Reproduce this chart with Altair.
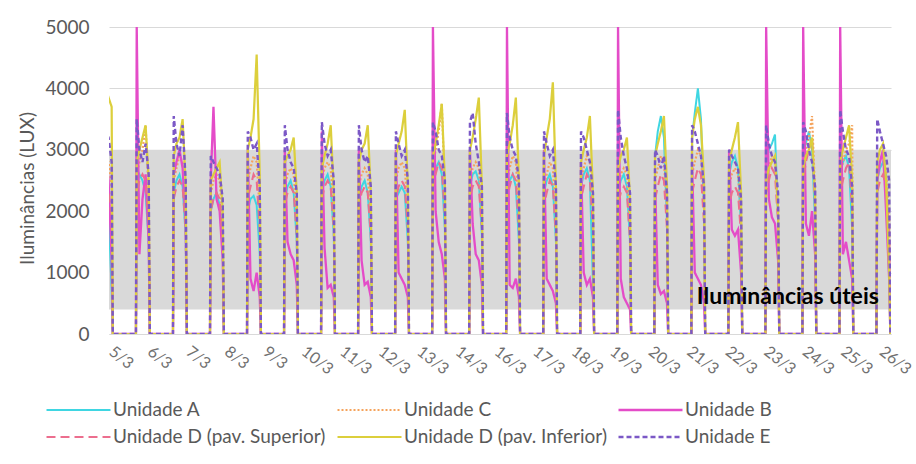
import json
import altair as alt
import pandas as pd

# ---------------- data ----------------
SERIES = ["Unidade A", "Unidade C", "Unidade B",
          "Unidade D (pav. Superior)", "Unidade D (pav. Inferior)", "Unidade E"]
COLORS = ["#3FD6E2", "#F5A35C", "#E44CC8", "#EC6E8E", "#DCCF3C", "#7B58C6"]
DASHES = [[1, 0], [2, 2], [1, 0], [9, 5], [1, 0], [5, 3]]
WIDTHS = [2.0, 2.2, 2.0, 2.4, 2.0, 2.8]
# legend is filled column by column: this order shows rows A,C,B / Dsup,Dinf,E
LEGEND_ORDER = ["Unidade A", "Unidade D (pav. Superior)", "Unidade C",
                "Unidade D (pav. Inferior)", "Unidade B", "Unidade E"]

# daytime sampling hours (values below) and the dark hours read as 0 lux
DAY_HOURS = [8.25, 10, 12, 14, 16]
DARK_HOURS = [7.75, 16.75]
DARK_LUX = 0

# one row per calendar day 5/3 ... 26/3 (values at DAY_HOURS)
UNIDADE_A = [
    [2200, 2300, 2400, 2000, 700], [2400, 2600, 2500, 2300, 1500], [2300, 2500, 2600, 2400, 1600],
    [2000, 2200, 2300, 2100, 1400], [2000, 2200, 2250, 2100, 1300], [2200, 2400, 2500, 2300, 1500],
    [2300, 2500, 2600, 2400, 1600], [2200, 2400, 2500, 2300, 1500], [2200, 2300, 2400, 2300, 1500],
    [2500, 2700, 2800, 2600, 1700], [2400, 2600, 2650, 2500, 1600], [2300, 2500, 2600, 2400, 1500],
    [2300, 2500, 2600, 2400, 1500], [2400, 2600, 2700, 2500, 800], [2300, 2500, 2600, 2400, 1500],
    [2900, 3300, 3550, 3200, 1800], [3200, 3600, 4000, 3500, 2000], [2600, 2800, 2900, 2700, 1700],
    [2800, 3000, 3100, 3250, 1900], [2900, 3100, 3300, 3000, 1800], [2600, 2800, 2900, 2700, 1700],
    [2500, 2700, 2800, 2600, 900],
]
UNIDADE_C = [
    [2600, 2800, 2900, 2800, 2400], [2600, 2800, 3000, 3400, 2300], [2500, 2700, 2900, 2800, 2000],
    [2300, 2500, 2600, 2500, 1800], [2500, 2700, 2900, 2800, 2000], [2400, 2600, 2700, 2600, 1900],
    [2500, 2700, 2800, 2700, 2000], [2400, 2600, 2700, 2600, 1900], [2500, 2700, 2800, 2700, 2000],
    [2700, 3000, 3300, 3750, 2300], [2500, 2700, 2800, 2700, 2000], [2500, 2700, 2900, 2800, 2000],
    [2400, 2600, 2800, 2700, 1900], [2500, 2700, 2900, 2800, 2000], [2400, 2600, 2700, 2600, 1800],
    [2500, 2700, 2900, 2800, 2000], [2600, 2800, 3000, 2900, 2100], [2400, 2600, 2700, 2600, 1900],
    [2500, 2700, 2900, 2800, 2000], [2700, 3000, 3200, 3550, 2300], [2600, 2800, 3000, 3100, 3400],
    [2600, 2800, 2900, 2700, 1900],
]
UNIDADE_B = [
    [3000, 3100, 3000, 2500, 1200], [5000, 1300, 2200, 2600, 1500], [2600, 2800, 3000, 2700, 1800],
    [2500, 3700, 2200, 2000, 1200], [3000, 900, 700, 1000, 600], [3000, 1500, 1300, 1200, 800],
    [3300, 1400, 750, 800, 600], [3000, 1200, 800, 850, 600], [3000, 1000, 900, 800, 600],
    [5000, 2000, 1500, 1300, 900], [3000, 1800, 1300, 1200, 800], [5000, 800, 750, 900, 600],
    [3000, 900, 800, 700, 500], [2800, 1000, 800, 900, 600], [5000, 900, 600, 500, 400],
    [2500, 800, 650, 700, 500], [2800, 1000, 900, 800, 500], [3000, 1700, 1600, 1700, 1000],
    [5000, 2200, 1900, 1800, 1200], [5000, 1800, 1600, 2000, 1300], [5000, 1300, 1500, 1200, 900],
    [2500, 2800, 3000, 2000, 900],
]
UNIDADE_D_SUP = [
    [2200, 2400, 2500, 2300, 1900], [2300, 2500, 2600, 2500, 1800], [2200, 2400, 2500, 2400, 1700],
    [2000, 2200, 2300, 2200, 1500], [2200, 2400, 2600, 2500, 1700], [2100, 2300, 2400, 2300, 1600],
    [2200, 2400, 2500, 2400, 1700], [2100, 2300, 2400, 2300, 1600], [2200, 2400, 2500, 2400, 1700],
    [2400, 2600, 2800, 2700, 1900], [2200, 2400, 2500, 2400, 1700], [2200, 2400, 2600, 2500, 1700],
    [2100, 2300, 2500, 2400, 1600], [2200, 2400, 2600, 2500, 1700], [2100, 2300, 2400, 2300, 1500],
    [2200, 2400, 2600, 2500, 1700], [2300, 2500, 2700, 2600, 1800], [2100, 2300, 2400, 2300, 1600],
    [2300, 2500, 2700, 2600, 1800], [2500, 2800, 3000, 3200, 2000], [2300, 2500, 2700, 2800, 2000],
    [2300, 2500, 2600, 2400, 1600],
]
UNIDADE_D_INF = [
    [3400, 3500, 3600, 3850, 3700], [2800, 3000, 3200, 3400, 2500], [2900, 3100, 3200, 3500, 2400],
    [2500, 2600, 2700, 2800, 2000], [3000, 3200, 3500, 4550, 2600], [2800, 2900, 3000, 3200, 2300],
    [2700, 2900, 3100, 3400, 2300], [2800, 3000, 3100, 3400, 2300], [2900, 3100, 3300, 3650, 2400],
    [2900, 3100, 3400, 3750, 2500], [3000, 3200, 3500, 3850, 2400], [2900, 3100, 3400, 3850, 2500],
    [2900, 3200, 3500, 4100, 2400], [2800, 3000, 3200, 3550, 2300], [2700, 2900, 3000, 3200, 2200],
    [2900, 3100, 3300, 3550, 2400], [3200, 3500, 3700, 3400, 2500], [2800, 3000, 3200, 3450, 2300],
    [2500, 2700, 2800, 2900, 2000], [2700, 2900, 3000, 3200, 2200], [2800, 3000, 3200, 3400, 2500],
    [2800, 3000, 3100, 2500, 1000],
]
UNIDADE_E = [
    [3000, 3200, 3300, 3200, 2800], [3500, 3000, 2800, 3100, 2600], [3550, 3100, 2900, 3400, 2500],
    [2900, 2800, 2700, 2600, 2200], [3300, 3200, 3000, 3100, 2400], [3400, 3000, 2800, 2700, 2300],
    [3450, 3100, 2900, 3000, 2500], [3400, 3000, 2800, 2900, 2400], [3300, 3100, 2900, 3000, 2500],
    [3450, 3300, 3000, 2900, 2500], [3450, 3600, 3100, 2800, 2400], [3600, 3200, 3000, 2900, 2500],
    [3300, 3100, 2900, 3000, 2400], [3300, 3200, 3000, 2800, 2300], [3650, 3200, 2900, 2700, 2300],
    [3000, 2900, 2700, 2900, 2300], [3400, 3300, 3100, 2900, 2400], [3000, 2900, 2800, 2700, 2200],
    [3400, 3100, 2900, 2800, 2300], [3450, 3300, 3000, 2800, 2400], [3650, 3300, 3000, 2900, 2400],
    [3500, 3300, 3100, 2900, 2500],
]
VALUES = {
    "Unidade A": UNIDADE_A, "Unidade C": UNIDADE_C, "Unidade B": UNIDADE_B,
    "Unidade D (pav. Superior)": UNIDADE_D_SUP, "Unidade D (pav. Inferior)": UNIDADE_D_INF,
    "Unidade E": UNIDADE_E,
}

# x axis: day index (0 = 5/3), tick positions and texts
X_DOMAIN = [0.595, 21.716]
TICK_T = [0.77, 1.81, 2.85, 3.89, 4.93, 5.97, 7.01, 8.05, 9.09, 10.13, 11.18,
          12.22, 13.26, 14.30, 15.34, 16.38, 17.42, 18.46, 19.50, 20.54, 21.58]
TICK_TEXT = ["5/3", "6/3", "7/3", "8/3", "9/3", "10/3", "11/3", "12/3", "13/3", "14/3",
             "16/3", "17/3", "18/3", "19/3", "20/3", "21/3", "22/3", "23/3", "24/3", "25/3", "26/3"]
Y_TICKS = [0, 1000, 2000, 3000, 4000, 5000]

BAND_LO, BAND_HI = 400, 3000
ANNOT_T, ANNOT_LUX, ANNOT_TEXT = [18.93], [600], ["Iluminâncias úteis"]

# ---------------- tables ----------------
rows = []
for name in SERIES:
    for day, vals in enumerate(VALUES[name]):
        pts = [(DARK_HOURS[0], DARK_LUX)] + list(zip(DAY_HOURS, vals)) + [(DARK_HOURS[1], DARK_LUX)]
        for h, v in pts:
            rows.append({"serie": name, "t": day + h / 24.0, "lux": v})
df = pd.DataFrame(rows)
band_df = pd.DataFrame({"lux": [BAND_LO], "lux2": [BAND_HI]})
annot_df = pd.DataFrame({"t": ANNOT_T, "lux": ANNOT_LUX, "text": ANNOT_TEXT})

label_expr = "%s[indexof(%s, datum.value)]" % (json.dumps(TICK_TEXT), json.dumps(TICK_T))

leg_colors = [COLORS[SERIES.index(s)] for s in LEGEND_ORDER]
leg_dashes = [DASHES[SERIES.index(s)] for s in LEGEND_ORDER]
leg_widths = [WIDTHS[SERIES.index(s)] for s in LEGEND_ORDER]

FONT = "Lato"
x_axis = alt.Axis(values=TICK_T, labelExpr=label_expr, labelAngle=38, labelAlign="left",
                  labelBaseline="top", ticks=False, grid=False, domainColor="#D9D9D9",
                  labelPadding=9, labelOverlap=False, labelColor="#707070",
                  labelFontSize=16, title=None)
y_axis = alt.Axis(values=Y_TICKS, format="d", ticks=False, domain=False, grid=True,
                  gridColor="#D9D9D9", labelPadding=20, title="Iluminâncias (LUX)",
                  titleX=-72, titleY=161)
x_enc = alt.X("t:Q", scale=alt.Scale(domain=X_DOMAIN, nice=False, zero=False), axis=x_axis)
y_enc = alt.Y("lux:Q", scale=alt.Scale(domain=[0, 5000], nice=False), axis=y_axis)

legend = alt.Legend(orient="none", legendX=-64, legendY=374, columns=3, title=None,
                    symbolType="stroke", symbolSize=4096, symbolStrokeWidth=2.5,
                    clipHeight=18, rowPadding=8, columnPadding=10, labelFont=FONT,
                    labelFontSize=19, labelColor="#595959", labelLimit=400, labelOffset=1,
                    padding=0)

band = alt.Chart(band_df).mark_rect(color="#D9D9D9").encode(y=y_enc, y2="lux2:Q")

lines = alt.Chart(df).mark_line(clip=True).encode(
    x=x_enc, y=y_enc,
    color=alt.Color("serie:N", scale=alt.Scale(domain=LEGEND_ORDER, range=leg_colors), legend=legend),
    strokeDash=alt.StrokeDash("serie:N", scale=alt.Scale(domain=LEGEND_ORDER, range=leg_dashes),
                              legend=legend),
    strokeWidth=alt.StrokeWidth("serie:N", scale=alt.Scale(domain=LEGEND_ORDER, range=leg_widths),
                                legend=None),
)

annot = alt.Chart(annot_df).mark_text(font=FONT, fontSize=23, fontWeight="bold", color="black",
                                      align="center", baseline="middle").encode(
    x=x_enc, y=y_enc, text="text:N")

chart = alt.layer(band, lines, annot).properties(
    width=782, height=307,
    autosize=alt.AutoSizeParams(type="none"),
    padding={"left": 109, "top": 27, "right": 25, "bottom": 130},
).configure_view(stroke=None).configure_axis(
    labelFont=FONT, labelFontSize=19, labelColor="#595959",
    titleFont=FONT, titleFontSize=19, titleColor="#595959", titleFontWeight="normal",
)

chart.save("out.html", embed_options={"renderer": "svg", "actions": False})
